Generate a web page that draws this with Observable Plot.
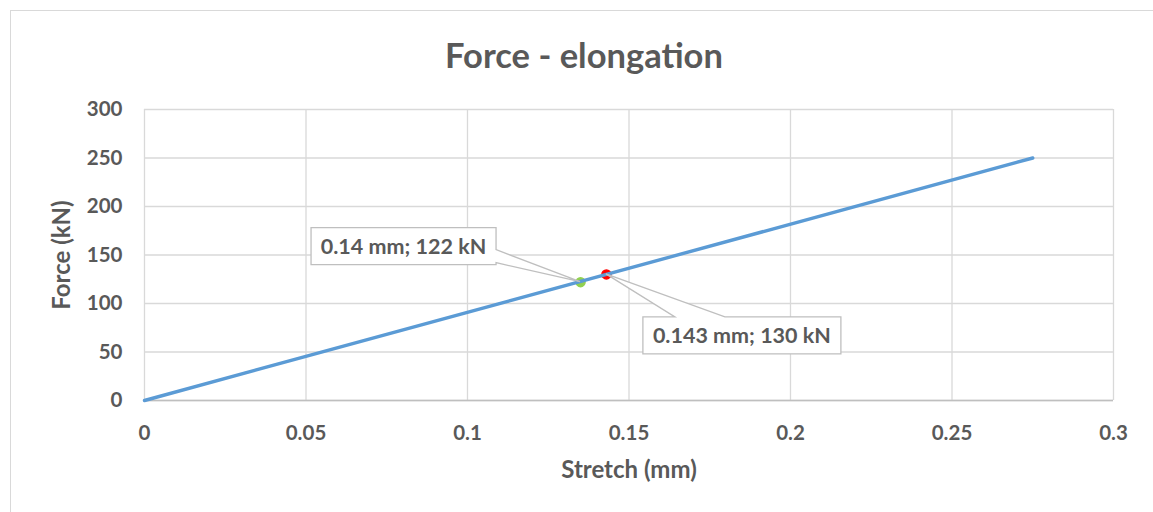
<!DOCTYPE html>
<html>
<head>
<meta charset="utf-8">
<script src="https://cdn.jsdelivr.net/npm/d3@7"></script>
<script src="https://cdn.jsdelivr.net/npm/@observablehq/plot@0.6"></script>
<style>
  html, body { margin: 0; padding: 0; background: #fff; overflow: hidden; }
  #wrap { position: relative; width: 1153px; height: 512px; }
  #border { position: absolute; left: 10px; top: 10px; width: 1160px; height: 520px; border: 1px solid #d9d9d9; box-sizing: border-box; }
  #chart { position: absolute; left: 0; top: 0; }
</style>
</head>
<body>
<div id="wrap"><div id="border"></div><div id="chart"></div></div>
<script>
// Data
const stretch = [0, 0.275];
const force = [0, 250];
const markStretch = [0.135, 0.143];
const markForce = [122, 130];
const markLabels = ["0.14 mm; 122 kN", "0.143 mm; 130 kN"];
const markColors = ["#92d050", "#ff0000"];
const xTicks = [0, 0.05, 0.1, 0.15, 0.2, 0.25, 0.3];
const xTickLabels = ["0", "0.05", "0.1", "0.15", "0.2", "0.25", "0.3"];
const yTicks = [0, 50, 100, 150, 200, 250, 300];
const yTickLabels = ["0", "50", "100", "150", "200", "250", "300"];

const lineData = stretch.map((s, i) => ({s, f: force[i]}));
const marks = markStretch.map((s, i) => ({s, f: markForce[i], label: markLabels[i], color: markColors[i]}));

// callout shapes: pixel offsets relative to the data point (styling only)
const callouts = [
  {box: [-269, -54, 185, 37], wedge: "right", a: [-32, -19]},
  {box: [37, 43, 198, 37], wedge: "top", a: [69, 119]}
];

const FONT = "Lato, 'Open Sans', sans-serif";
const GREY = "#595959";

function calloutMark(index, scales) {
  const g = d3.create("svg:g");
  marks.forEach((m, i) => {
    const px = scales.x(m.s), py = scales.y(m.f);
    const c = callouts[i];
    const L = px + c.box[0], T = py + c.box[1], R = L + c.box[2], B = T + c.box[3];
    let d;
    if (c.wedge === "right") {
      d = `M${L},${T}H${R}V${py + c.a[0]}L${px},${py}L${R},${py + c.a[1]}V${B}H${L}Z`;
    } else {
      d = `M${L},${T}H${px + c.a[0]}L${px},${py}L${px + c.a[1]},${T}H${R}V${B}H${L}Z`;
    }
    g.append("path").attr("d", d).attr("fill", "#fff").attr("stroke", "#bfbfbf").attr("stroke-width", 1.3);
    g.append("text")
      .attr("x", (L + R) / 2).attr("y", (T + B) / 2)
      .attr("dy", "0.36em")
      .attr("text-anchor", "middle")
      .attr("font-family", FONT).attr("font-weight", "bold").attr("font-size", 21.5)
      .attr("fill", GREY)
      .text(m.label);
  });
  return g.node();
}

const plot = Plot.plot({
  width: 1153,
  height: 512,
  marginLeft: 144,
  marginRight: 40,
  marginTop: 109,
  marginBottom: 112,
  style: {fontFamily: FONT, background: "transparent", overflow: "visible"},
  x: {domain: [0, 0.3], ticks: xTicks, label: null},
  y: {domain: [0, 300], ticks: yTicks, label: null},
  marks: [
    Plot.gridX(xTicks, {stroke: "#d9d9d9", strokeOpacity: 1, strokeWidth: 1.3}),
    Plot.gridY(yTicks, {stroke: "#d9d9d9", strokeOpacity: 1, strokeWidth: 1.3}),
    Plot.ruleY([0], {stroke: "#bfbfbf", strokeWidth: 1.5}),
    Plot.axisX(xTicks, {tickSize: 0, tickPadding: 25, fontSize: 20.5, fontWeight: "bold", fill: GREY, tickFormat: (d) => xTickLabels[xTicks.indexOf(d)], label: null}),
    Plot.axisY(yTicks, {tickSize: 0, tickPadding: 22, fontSize: 20.5, fontWeight: "bold", fill: GREY, tickFormat: (d) => yTickLabels[yTicks.indexOf(d)], label: null}),
    Plot.dot(marks, {x: "s", y: "f", fill: "color", r: 4.5, stroke: "color"}),
    Plot.line(lineData, {x: "s", y: "f", stroke: "#5b9bd5", strokeWidth: 3.4}),
    calloutMark,
    Plot.text(["Force - elongation"], {frameAnchor: "top", dx: -45, dy: -53, fontSize: 34.5, fontWeight: "bold", fill: GREY, lineAnchor: "middle"}),
    Plot.text(["Stretch (mm)"], {frameAnchor: "bottom", dy: 70, fontSize: 24, fontWeight: "bold", fill: GREY, lineAnchor: "middle"}),
    Plot.text(["Force (kN)"], {frameAnchor: "left", dx: -82, rotate: -90, textAnchor: "middle", fontSize: 24, fontWeight: "bold", fill: GREY, lineAnchor: "middle"})
  ]
});
document.getElementById("chart").appendChild(plot);
</script>
</body>
</html>
